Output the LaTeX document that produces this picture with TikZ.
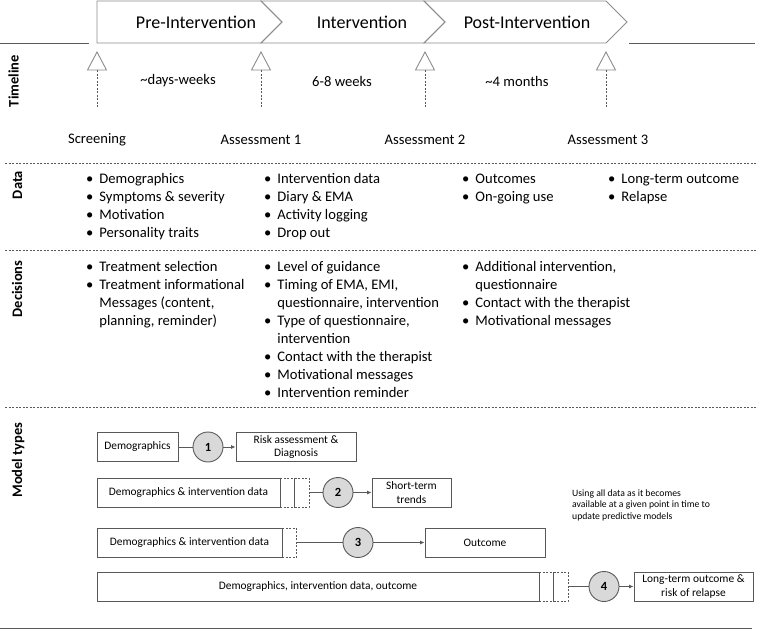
\documentclass[tikz,border=0pt]{standalone}
\usepackage{xcolor}
\usepackage{fontspec}
\setmainfont{Carlito}
\usepackage{tikz}
\usetikzlibrary{arrows.meta}
\usetikzlibrary{shapes,shapes.geometric}
\tikzset{>=stealth}
\definecolor{linegray}{HTML}{595959}
\definecolor{chevgray}{HTML}{8C8C8C}
\definecolor{circfill}{HTML}{D9D9D9}
\tikzset{
  sectlabel/.style={rotate=90, anchor=base, inner sep=0pt, font=\fontsize{14.5}{17}\selectfont\bfseries},
  phase/.style={inner sep=0pt, font=\fontsize{18}{21}\selectfont},
  body/.style={inner sep=0pt, font=\fontsize{14.6}{18}\selectfont},
  sepline/.style={linegray, line width=0.8pt, dash pattern=on 2pt off 1.5pt},
  mbox/.style={draw=linegray, line width=0.9pt, inner sep=0pt, minimum height=29pt, align=center, font=\fontsize{11.4}{13.5}\selectfont},
  mdash/.style={mbox, dash pattern=on 2pt off 1.5pt, minimum width=14.5pt},
  num/.style={circle, draw=linegray, line width=0.9pt, fill=circfill, minimum size=30pt, inner sep=0pt, font=\fontsize{12.5}{14}\selectfont\bfseries},
  conn/.style={linegray, line width=0.9pt},
  arr/.style={conn, -{Latex[length=4.5pt,width=4pt]}},
}

\begin{document}
\begin{tikzpicture}[x=1pt, y=-1pt]
      \useasboundingbox (0,0) rectangle (758,630);
      % timeline and phases
      \draw[linegray, line width=1pt] (0,43) -- (89,43);
      \draw[linegray, line width=1pt] (629,43) -- (755,43);
      \draw[chevgray, line width=0.9pt] (97,1) -- (261,1) -- (282,22) -- (261,43) -- (97,43) -- cycle;
      \draw[chevgray, line width=0.9pt] (261,1) -- (424,1) -- (445,22) -- (424,43) -- (261,43) -- (282,22) -- cycle;
      \draw[chevgray, line width=0.9pt] (424,1) -- (606,1) -- (627,22) -- (606,43) -- (424,43) -- (445,22) -- cycle;
      \node[phase] (pre) at (196,22) {Pre-Intervention};
      \node[phase] (int) at (362,22) {Intervention};
      \node[phase] (post) at (527,22) {Post-Intervention};
      % assessment points
      \coordinate (a0) at (97,70);
      \coordinate (a1) at (261,70);
      \coordinate (a2) at (425,70);
      \coordinate (a3) at (606,70);
      \draw[chevgray, line width=0.9pt] (97,52) -- (106.5,70) -- (87.5,70) -- cycle;
      \draw[chevgray, line width=0.9pt] (261,52) -- (270.5,70) -- (251.5,70) -- cycle;
      \draw[chevgray, line width=0.9pt] (425,52) -- (434.5,70) -- (415.5,70) -- cycle;
      \draw[chevgray, line width=0.9pt] (606,52) -- (615.5,70) -- (596.5,70) -- cycle;
      \draw[sepline] (a0) -- ++(0,37);
      \draw[sepline] (a1) -- ++(0,37);
      \draw[sepline] (a2) -- ++(0,37);
      \draw[sepline] (a3) -- ++(0,37);
      \node[body] (d0) at (178,81) {\textasciitilde days-weeks};
      \node[body] (d1) at (342,81) {6-8 weeks};
      \node[body] (d2) at (517,81) {\textasciitilde 4 months};
      \node[body] (scr) at (97,140) {Screening};
      \node[body] (as1) at (261,140) {Assessment 1};
      \node[body] (as2) at (425,140) {Assessment 2};
      \node[body] (as3) at (608,140) {Assessment 3};
      \node[sectlabel] (lbltime) at (18.5,81) {Timeline};
      % data
      \draw[sepline] (5,163) -- (758,163);
      \node[sectlabel] (lbldata) at (22,185) {Data};
      \node[body, anchor=base west] (data0) at (86,183.5) {\begin{tabular}[t]{@{}l@{\hspace{6pt}}l@{}}
        \textbullet & Demographics\\
        \textbullet & Symptoms \& severity\\
        \textbullet & Motivation\\
        \textbullet & Personality traits
      \end{tabular}};
      \node[body, anchor=base west] (data1) at (264,183.5) {\begin{tabular}[t]{@{}l@{\hspace{6pt}}l@{}}
        \textbullet & Intervention data\\
        \textbullet & Diary \& EMA\\
        \textbullet & Activity logging\\
        \textbullet & Drop out
      \end{tabular}};
      \node[body, anchor=base west] (data2) at (462,183.5) {\begin{tabular}[t]{@{}l@{\hspace{6pt}}l@{}}
        \textbullet & Outcomes\\
        \textbullet & On-going use
      \end{tabular}};
      \node[body, anchor=base west] (data3) at (608,183.5) {\begin{tabular}[t]{@{}l@{\hspace{6pt}}l@{}}
        \textbullet & Long-term outcome\\
        \textbullet & Relapse
      \end{tabular}};
      % decisions
      \draw[sepline] (5,250) -- (758,250);
      \node[sectlabel] (lbldec) at (22,289) {Decisions};
      \node[body, anchor=base west] (dec0) at (86,271) {\begin{tabular}[t]{@{}l@{\hspace{6pt}}l@{}}
        \textbullet & Treatment selection\\
        \textbullet & Treatment informational\\
                    & Messages (content,\\
                    & planning, reminder)
      \end{tabular}};
      \node[body, anchor=base west] (dec1) at (264,271) {\begin{tabular}[t]{@{}l@{\hspace{6pt}}l@{}}
        \textbullet & Level of guidance\\
        \textbullet & Timing of EMA, EMI,\\
                    & questionnaire, intervention\\
        \textbullet & Type of questionnaire,\\
                    & intervention\\
        \textbullet & Contact with the therapist\\
        \textbullet & Motivational messages\\
        \textbullet & Intervention reminder
      \end{tabular}};
      \node[body, anchor=base west] (dec2) at (462,271) {\begin{tabular}[t]{@{}l@{\hspace{6pt}}l@{}}
        \textbullet & Additional intervention,\\
                    & questionnaire\\
        \textbullet & Contact with the therapist\\
        \textbullet & Motivational messages
      \end{tabular}};
      % model types
      \draw[sepline] (5,407) -- (758,407);
      \node[sectlabel] (lblmod) at (22,460) {Model types};
      \node[mbox, minimum width=81pt] (dem1) at (137.5,447) {Demographics};
      \node[num] (m1) at (208,447) {1};
      \node[mbox, minimum width=120pt] (out1) at (296,447) {Risk assessment \&\\Diagnosis};
      \draw[conn] (dem1) -- (m1);
      \draw[arr] (m1) -- (out1);
      \node[mdash] (dash2a) at (287.25,492.5) {};
      \node[mdash] (dash2b) at (301.75,492.5) {};
      \node[mbox, minimum width=183pt] (dem2) at (188.5,492.5) {Demographics \& intervention data};
      \node[num] (m2) at (338,492.5) {2};
      \node[mbox, minimum width=79pt] (out2) at (411.5,492.5) {Short-term\\trends};
      \draw[conn] (dash2b) -- (m2);
      \draw[arr] (m2) -- (out2);
      \node[mdash] (dash3a) at (289.5,542.5) {};
      \node[mbox, minimum width=185pt] (dem3) at (189.5,542.5) {Demographics \& intervention data};
      \node[num] (m3) at (358,542.5) {3};
      \node[mbox, minimum width=120pt] (out3) at (485,542.5) {Outcome};
      \draw[conn] (dash3a) -- (m3);
      \draw[arr] (m3) -- (out3);
      \node[mdash] (dash4a) at (546.25,586.5) {};
      \node[mdash] (dash4b) at (560.75,586.5) {};
      \node[mbox, minimum width=442pt] (dem4) at (318,586.5) {Demographics, intervention data, outcome};
      \node[num] (m4) at (604,586.5) {4};
      \node[mbox, minimum width=119pt] (out4) at (693.5,586.5) {Long-term outcome \&\\risk of relapse};
      \draw[conn] (dash4b) -- (m4);
      \draw[arr] (m4) -- (out4);
      \node[inner sep=0pt, anchor=base west, font=\fontsize{9.7}{11.6}\selectfont] (note) at (572,496) {\begin{tabular}[t]{@{}l@{}}
        Using all data as it becomes\\
        available at a given point in time to\\
        update predictive models
      \end{tabular}};
      \draw[linegray, line width=1pt] (0,628) -- (752,628);
    \end{tikzpicture}
\end{document}
